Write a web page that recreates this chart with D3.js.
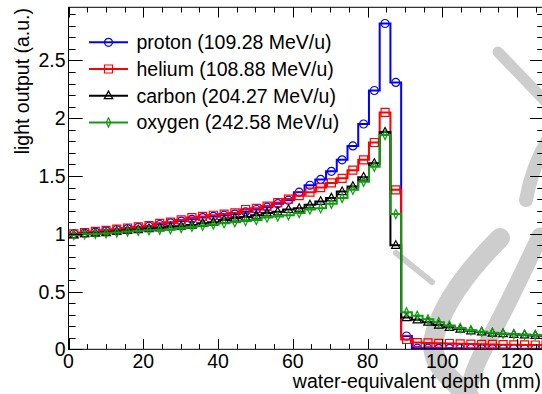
<!DOCTYPE html>
<html>
<head>
<meta charset="utf-8">
<script src="https://cdn.jsdelivr.net/npm/d3@7"></script>
<style>
  html, body { margin: 0; padding: 0; background: #fff; }
  svg { display: block; font-family: "Liberation Sans", Arial, sans-serif; }
</style>
</head>
<body>
<svg id="chart" width="542" height="394"></svg>
<script>
// ---------------- data ----------------
const xMin = 0;          // mm, low edge of first bin
const binWidth = 2.871;  // mm per bin
const xTicksMajor = [0, 20, 40, 60, 80, 100, 120];
const yTicksMajor = [0, 0.5, 1, 1.5, 2, 2.5];
const yTickLabels = ["0", "0.5", "1", "1.5", "2", "2.5"];

const seriesNames = ["proton (109.28 MeV/u)", "helium (108.88 MeV/u)", "carbon (204.27 MeV/u)", "oxygen (242.58 MeV/u)"];

const proton = [1.00, 1.005, 1.015, 1.025, 1.035, 1.045, 1.055, 1.065, 1.08, 1.095,
  1.11, 1.125, 1.14, 1.15, 1.16, 1.17, 1.19, 1.21, 1.23, 1.26,
  1.29, 1.36, 1.42, 1.47, 1.54, 1.64, 1.76, 1.95, 2.24, 2.82, 2.31,
  0.115, 0.01, 0.009, 0.008, 0.008, 0.007, 0.007, 0.006, 0.006, 0.006, 0.005, 0.005, 0.005, 0.005];
const helium = [1.00, 1.01, 1.02, 1.03, 1.04, 1.05, 1.06, 1.07, 1.09, 1.10,
  1.12, 1.14, 1.15, 1.16, 1.17, 1.18, 1.21, 1.22, 1.24, 1.27,
  1.30, 1.33, 1.36, 1.40, 1.44, 1.48, 1.55, 1.64, 1.79, 2.05, 1.38,
  0.085, 0.058, 0.055, 0.052, 0.05, 0.047, 0.045, 0.043, 0.042, 0.04, 0.039, 0.038, 0.037, 0.037];
const carbon = [0.99, 1.00, 1.005, 1.01, 1.02, 1.03, 1.035, 1.045, 1.05, 1.06,
  1.065, 1.075, 1.09, 1.10, 1.12, 1.135, 1.145, 1.16, 1.18, 1.19,
  1.21, 1.22, 1.25, 1.28, 1.31, 1.365, 1.41, 1.49, 1.61, 1.88, 0.90,
  0.275, 0.255, 0.235, 0.21, 0.19, 0.175, 0.16, 0.15, 0.14, 0.135, 0.13, 0.125, 0.12, 0.118];
const oxygen = [0.99, 0.995, 1.00, 1.005, 1.01, 1.02, 1.025, 1.03, 1.035, 1.04,
  1.05, 1.06, 1.07, 1.08, 1.09, 1.10, 1.11, 1.12, 1.14, 1.15,
  1.16, 1.18, 1.21, 1.22, 1.26, 1.31, 1.38, 1.45, 1.58, 1.855, 1.17,
  0.32, 0.29, 0.26, 0.235, 0.205, 0.185, 0.165, 0.152, 0.143, 0.135, 0.13, 0.126, 0.124, 0.122];

const seriesColors = ["#0000ff", "#ff0000", "#000000", "#109c10"];
const seriesMarkers = ["circle", "square", "triangle", "diamond"];

// ---------------- layout ----------------
const svg = d3.select("#chart");
const pL = 68.5, pR = 544.3, pT = 7.3, pB = 349.3;
const xMax = 127.3, yMax = 2.96;
const x = d3.scaleLinear().domain([0, xMax]).range([pL, pR]);
const y = d3.scaleLinear().domain([0, yMax]).range([pB, pT]);
const FS = 19.5;

const defs = svg.append("defs");
defs.append("clipPath").attr("id", "plotclip")
  .append("rect").attr("x", pL).attr("y", pT - 2).attr("width", pR - pL).attr("height", pB - pT + 2);

// faint grey watermark strokes behind everything (decoration, not data)
const wm = svg.append("g").attr("fill", "none").attr("stroke", "#cdcdcd").attr("stroke-linecap", "round");
wm.append("path").attr("d", "M500,238 C470,268 446,300 436,330 S444,372 470,398").attr("stroke-width", 20);
wm.append("path").attr("d", "M540,236 C525,268 510,300 494,330 S472,372 466,400").attr("stroke-width", 17);
wm.append("path").attr("d", "M396,253 L432,282").attr("stroke-width", 6);
wm.append("path").attr("d", "M498,52 L548,104").attr("stroke-width", 11);
wm.append("path").attr("d", "M548,140 C536,160 530,178 526,200").attr("stroke-width", 14);

// ---------------- histograms ----------------
const allSeries = [proton, helium, carbon, oxygen];
const plot = svg.append("g").attr("clip-path", "url(#plotclip)");

function markerPath(type, s) {
  if (type === "circle") return d3.symbol().type(d3.symbolCircle).size(Math.PI * s * s)();
  if (type === "square") return `M${-s},${-s}H${s}V${s}H${-s}Z`;
  if (type === "triangle") return `M0,${-s * 1.15}L${s * 1.05},${s * 0.75}L${-s * 1.05},${s * 0.75}Z`;
  return `M0,${-s * 1.15}L${s * 0.55},0L0,${s * 1.15}L${-s * 0.55},0Z`;
}

allSeries.forEach((vals, si) => {
  const pts = vals.map((v, i) => [xMin + i * binWidth, v]);
  pts.push([xMin + vals.length * binWidth, vals[vals.length - 1]]);
  const line = d3.line().x(d => x(d[0])).y(d => y(d[1])).curve(d3.curveStepAfter);
  const g = plot.append("g");
  g.append("path").attr("d", line(pts))
    .attr("fill", "none").attr("stroke", seriesColors[si]).attr("stroke-width", 2);
  g.selectAll("path.m").data(vals).enter().append("path").attr("class", "m")
    .attr("transform", (v, i) => `translate(${x(xMin + (i + 0.5) * binWidth)},${y(v)})`)
    .attr("d", markerPath(seriesMarkers[si], 4))
    .attr("fill", "none").attr("stroke", seriesColors[si]).attr("stroke-width", 1.2);
});

// ---------------- axes / frame ----------------
const axes = svg.append("g").attr("stroke", "#000").attr("stroke-width", 1);
axes.append("rect").attr("x", pL).attr("y", pT).attr("width", pR - pL).attr("height", pB - pT)
  .attr("fill", "none");

const xMinor = d3.range(0, xMax + 0.001, 5);
const yMinor = d3.range(0, yMax + 0.0001, 0.1).map(v => +v.toFixed(2));
const xMajLen = 10.3, xMinLen = 5.2, yMajLen = 14.2, yMinLen = 7.1;

xMinor.forEach(v => {
  const maj = Math.abs(v % 20) < 1e-6;
  const L = maj ? xMajLen : xMinLen;
  const px = Math.round(x(v)) + 0.5;
  axes.append("line").attr("x1", px).attr("x2", px).attr("y1", pB).attr("y2", pB - L);
  axes.append("line").attr("x1", px).attr("x2", px).attr("y1", pT).attr("y2", pT + L);
});
yMinor.forEach(v => {
  const maj = Math.abs((v * 10) % 5) < 1e-6;
  const L = maj ? yMajLen : yMinLen;
  const py = Math.round(y(v)) + 0.5;
  axes.append("line").attr("x1", pL).attr("x2", pL + L).attr("y1", py).attr("y2", py);
  axes.append("line").attr("x1", pR).attr("x2", pR - L).attr("y1", py).attr("y2", py);
});

// tick labels
const labels = svg.append("g").attr("font-size", FS).attr("fill", "#000");
xTicksMajor.forEach(v => {
  labels.append("text").attr("x", x(v)).attr("y", 368).attr("text-anchor", "middle").text(String(v));
});
yTicksMajor.forEach((v, i) => {
  labels.append("text").attr("x", 65.5).attr("y", y(v) + 7).attr("text-anchor", "end").text(yTickLabels[i]);
});

// axis titles
labels.append("text").attr("x", 541).attr("y", 388).attr("text-anchor", "end").text("water-equivalent depth (mm)");
labels.append("text").attr("transform", `translate(29.3,8) rotate(-90)`).attr("text-anchor", "end").text("light output (a.u.)");

// ---------------- legend ----------------
const leg = svg.append("g");
const legY0 = 42.3, legDy = 26.7;
seriesNames.forEach((name, si) => {
  const yy = legY0 + si * legDy;
  leg.append("line").attr("x1", 89).attr("x2", 128).attr("y1", yy).attr("y2", yy)
    .attr("stroke", seriesColors[si]).attr("stroke-width", 2);
  leg.append("path").attr("transform", `translate(108.5,${yy})`).attr("d", markerPath(seriesMarkers[si], 4))
    .attr("fill", "none").attr("stroke", seriesColors[si]).attr("stroke-width", 1.2);
  leg.append("text").attr("x", 136.5).attr("y", yy + 7).attr("font-size", FS).text(name);
});
</script>
</body>
</html>
